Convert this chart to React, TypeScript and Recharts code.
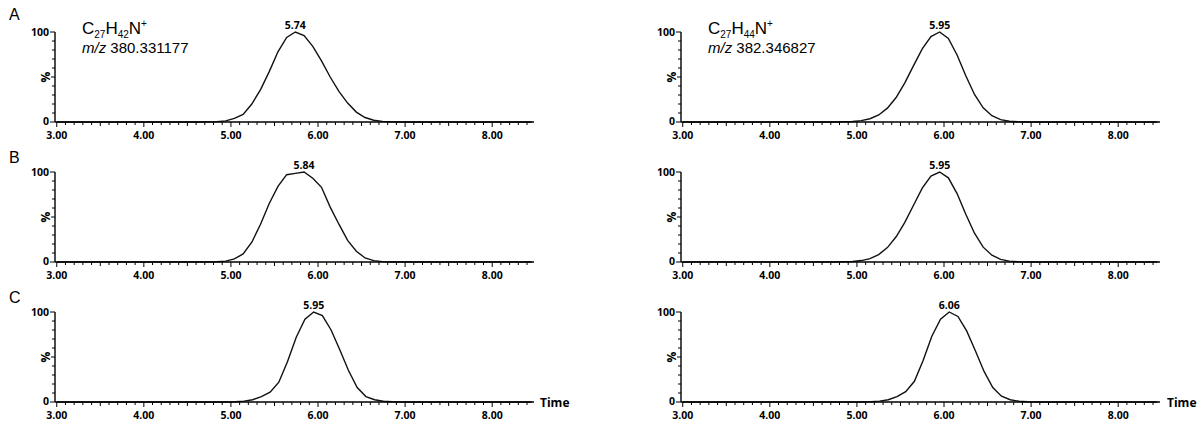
import { LineChart, Line, XAxis, YAxis, ReferenceDot } from "recharts";

// chromatogram traces, % intensity vs retention time (min)
const timesA1 = [3.0, 4.64, 4.74, 4.84, 4.94, 5.04, 5.14, 5.24, 5.34, 5.44, 5.54, 5.64, 5.74, 5.84, 5.94, 6.04, 6.14, 6.24, 6.34, 6.44, 6.54, 6.64, 6.74, 6.84, 6.94, 8.45];
const valuesA1 = [0, 0, 0.1, 0.4, 1.2, 4, 8.5, 20, 36, 56, 78, 94, 100, 96, 84, 68, 50, 34, 21, 11, 5, 2, 0.7, 0.2, 0, 0];

const timesB1 = [3.0, 4.74, 4.84, 4.94, 5.04, 5.14, 5.24, 5.34, 5.44, 5.54, 5.64, 5.74, 5.84, 5.94, 6.04, 6.14, 6.24, 6.34, 6.44, 6.54, 6.64, 6.74, 6.84, 8.45];
const valuesB1 = [0, 0, 0.2, 1, 3.5, 9, 22, 42, 65, 84, 97, 98.5, 100, 93, 83, 61, 42, 24, 12, 4.5, 1.5, 0.4, 0, 0];

const timesC1 = [3.0, 4.95, 5.05, 5.15, 5.25, 5.35, 5.45, 5.55, 5.65, 5.75, 5.85, 5.95, 6.05, 6.15, 6.25, 6.35, 6.45, 6.55, 6.65, 6.75, 6.85, 6.95, 8.45];
const valuesC1 = [0, 0, 0.3, 1, 2.5, 6, 11, 22, 45, 72, 92, 100, 96, 80, 58, 35, 16, 6, 2.5, 0.8, 0.2, 0, 0];

const timesA2 = [3.0, 4.75, 4.85, 4.95, 5.05, 5.15, 5.25, 5.35, 5.45, 5.55, 5.65, 5.75, 5.85, 5.95, 6.05, 6.15, 6.25, 6.35, 6.45, 6.55, 6.65, 6.75, 6.85, 6.95, 8.45];
const valuesA2 = [0, 0, 0.2, 0.55, 1.5, 3.6, 7.8, 15.4, 27.2, 43.5, 62.6, 81.2, 94.9, 100, 92.9, 74.4, 51.4, 30.6, 15.7, 7, 2.7, 0.9, 0.25, 0, 0];

const timesB2 = [3.0, 4.75, 4.85, 4.95, 5.05, 5.15, 5.25, 5.35, 5.45, 5.55, 5.65, 5.75, 5.85, 5.95, 6.05, 6.15, 6.25, 6.35, 6.45, 6.55, 6.65, 6.75, 6.85, 6.95, 8.45];
const valuesB2 = [0, 0, 0.2, 0.6, 1.6, 3.8, 8.2, 16, 28, 44, 63, 82, 95.5, 100, 93.5, 76, 53, 32, 16.5, 7.5, 2.9, 1, 0.3, 0, 0];

const timesC2 = [3.0, 5.06, 5.16, 5.26, 5.36, 5.46, 5.56, 5.66, 5.76, 5.86, 5.96, 6.06, 6.16, 6.26, 6.36, 6.46, 6.56, 6.66, 6.76, 6.86, 6.96, 7.06, 8.45];
const valuesC2 = [0, 0, 0.3, 1, 2.5, 6, 11.5, 23, 46, 73, 92, 100, 95, 79, 57, 34, 16, 6.5, 2.5, 0.8, 0.2, 0, 0];

const peakTimes = [[5.74, 5.95], [5.84, 5.95], [5.95, 6.06]];
const peakLabels = [["5.74", "5.95"], ["5.84", "5.95"], ["5.95", "6.06"]];
const rowLabels = ["A", "B", "C"];
const rowLabelY = [20, 163, 303];
const formulaSubs = [["27", "42"], ["27", "44"]];
const mzLabels = ["380.331177", "382.346827"];

const xMajorTicks = [3, 4, 5, 6, 7, 8];
const yTicks = [0, 10, 20, 30, 40, 50, 60, 70, 80, 90, 100];
const xTicks: number[] = [];
for (let i = 30; i <= 84; i++) xTicks.push(i / 10);

const traces = [
  [[timesA1, valuesA1], [timesA2, valuesA2]],
  [[timesB1, valuesB1], [timesB2, valuesB2]],
  [[timesC1, valuesC1], [timesC2, valuesC2]],
];

const tickFont = "'Open Sans', 'DejaVu Sans', sans-serif";
const textFont = "'Liberation Sans', Arial, sans-serif";

const XTick = (props: any) => {
  const { x, y, payload } = props;
  const r = Math.round(payload.value * 10);
  const major = r % 10 === 0;
  const len = major ? 5 : r % 5 === 0 ? 4 : 3;
  return (
    <g>
      <line x1={x} x2={x} y1={y} y2={y + len} stroke="#000" strokeWidth={1} />
      {major && xMajorTicks.includes(r / 10) && (
        <text x={x} y={y + 16.5} textAnchor="middle" fontSize={10.5} fontWeight="bold" fontFamily={tickFont} fill="#000">
          {(r / 10).toFixed(2)}
        </text>
      )}
    </g>
  );
};

const YTick = (props: any) => {
  const { x, y, payload } = props;
  const v = payload.value;
  const end = v === 0 || v === 100;
  const len = end ? 5 : v === 50 ? 4 : 3;
  return (
    <g>
      <line x1={x - len} x2={x} y1={y} y2={y} stroke="#000" strokeWidth={1} />
      {end && (
        <text x={x - 6} y={v === 0 ? y + 2.5 : y + 4} textAnchor="end" fontSize={10.5} fontWeight="bold" fontFamily={tickFont} fill="#000">
          {v}
        </text>
      )}
    </g>
  );
};

function Panel({ times, values, peak, label }: { times: number[]; values: number[]; peak: number; label: string }) {
  const data = times.map((t, i) => ({ t, v: values[i] }));
  return (
    <LineChart width={560} height={140} data={data} margin={{ top: 32, right: 26, bottom: 0, left: 5 }}>
      <XAxis
        dataKey="t"
        type="number"
        domain={[2.98, 8.48]}
        allowDataOverflow
        ticks={xTicks}
        interval={0}
        tickSize={0}
        tickMargin={0}
        tickLine={false}
        tick={XTick}
        height={18}
        axisLine={{ stroke: "#000", strokeWidth: 1.4 }}
      />
      <YAxis
        type="number"
        domain={[0, 100]}
        ticks={yTicks}
        interval={0}
        tickSize={0}
        tickMargin={0}
        tickLine={false}
        tick={YTick}
        width={50}
        axisLine={{ stroke: "#000", strokeWidth: 1.4 }}
      />
      <Line dataKey="v" type="linear" stroke="#111" strokeWidth={1.4} dot={false} isAnimationActive={false} />
      <ReferenceDot
        x={peak}
        y={100}
        r={0}
        fill="none"
        stroke="none"
        label={{ value: label, position: "top", offset: 3, fontSize: 10.5, fontWeight: "bold", fill: "#000", fontFamily: tickFont }}
      />
    </LineChart>
  );
}

export default function App() {
  return (
    <div style={{ position: "absolute", left: 0, top: 0, width: 1204, height: 424, background: "#fff", overflow: "hidden" }}>
      {traces.map((row, r) =>
        row.map(([times, values], c) => (
          <div key={`${r}-${c}`} style={{ position: "absolute", left: c === 0 ? 0 : 626, top: r * 140 }}>
            <Panel times={times} values={values} peak={peakTimes[r][c]} label={peakLabels[r][c]} />
          </div>
        ))
      )}
      <svg width={1204} height={424} style={{ position: "absolute", left: 0, top: 0, pointerEvents: "none" }}>
        {rowLabels.map((l, r) => (
          <text key={l} x={9} y={rowLabelY[r]} fontSize={16} fontFamily={textFont} fill="#000">
            {l}
          </text>
        ))}
        {formulaSubs.map((subs, c) => (
          <g key={c}>
            <text x={c === 0 ? 82 : 708} y={34} fontSize={17} fontFamily={textFont} fill="#000">
              C<tspan fontSize={10} dy={4}>{subs[0]}</tspan>
              <tspan dy={-4}>H</tspan>
              <tspan fontSize={10} dy={4}>{subs[1]}</tspan>
              <tspan dy={-4}>N</tspan>
              <tspan fontSize={10} dy={-7}>+</tspan>
            </text>
            <text x={c === 0 ? 82 : 708} y={53} fontSize={15} fontFamily={textFont} fill="#000">
              <tspan fontStyle="italic">m/z</tspan> {mzLabels[c]}
            </text>
          </g>
        ))}
        {rowLabels.map((l, r) =>
          [45, 671].map((x) => (
            <text
              key={`${l}-${x}`}
              x={x}
              y={77 + r * 140}
              transform={`rotate(-90 ${x} ${77 + r * 140})`}
              textAnchor="middle"
              dominantBaseline="central"
              fontSize={12}
              fontWeight="bold"
              fontFamily={tickFont}
              fill="#000"
            >
              %
            </text>
          ))
        )}
        {[540, 1167].map((x) => (
          <text key={x} x={x} y={407} fontSize={12} fontWeight="bold" fontFamily={tickFont} fill="#000">
            Time
          </text>
        ))}
      </svg>
    </div>
  );
}
